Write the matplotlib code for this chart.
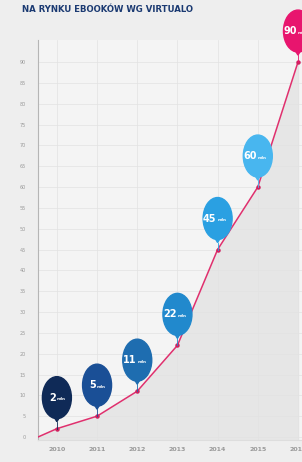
import matplotlib.pyplot as plt
import matplotlib.transforms as transforms
from matplotlib.patches import Ellipse, Polygon
import numpy as np

# ebook market size (mln) by year, read from the infographic
years = [2010, 2011, 2012, 2013, 2014, 2015, 2016]
values = [2, 5, 11, 22, 45, 60, 90]
year_labels = ['2010', '2011', '2012', '2013', '2014', '2015', '2016']
bubble_colors = ['#0f2a57', '#1a4f96', '#1e6db0', '#2189cd', '#2aa0e2', '#48b6ef', '#e8156e']
yticks = list(range(0, 95, 5))
start_year = 2009.53  # line starts at zero on the left edge

fig = plt.figure(figsize=(3.02, 4.62), dpi=100)
fig.patch.set_facecolor('#eeeeee')
ax = fig.add_axes([38 / 302, 22 / 462, 264 / 302, 400 / 462])
ax.set_facecolor('#f4f4f4')
ax.set_xlim(start_year, 2016.1)
ax.set_ylim(-0.72, 95.3)

xs = [start_year] + years
ys = [0] + values
ax.fill_between(xs, ys, -1, color='#e6e6e6', zorder=0)

ax.set_yticks(yticks)
ax.set_yticklabels([str(t) for t in yticks], fontsize=3.5, color='#9a9a9a')
ax.set_xticks(years)
ax.set_xticklabels(year_labels, fontsize=4.5, color='#9a9a9a', fontweight='bold')
ax.tick_params(axis='y', length=0, pad=9)
ax.tick_params(axis='x', length=0, pad=5)
ax.grid(True, color='#e2e2e2', linewidth=0.5)
for s in ['top', 'right']:
    ax.spines[s].set_visible(False)
ax.spines['left'].set_color('#b5b5b5')
ax.spines['left'].set_linewidth(0.8)
ax.spines['bottom'].set_color('#dddddd')

ax.plot(xs, ys, color='#e0306e', linewidth=1.1, zorder=3)
ax.plot(years, values, 'o', color='#d0205e', markersize=2.2, zorder=4)

# balloon labels above each point
for x, v, c in zip(years, values, bubble_colors):
    tr = fig.dpi_scale_trans + transforms.ScaledTranslation(x, v, ax.transData)
    ell = Ellipse((0, 0.31), 0.29, 0.42, color=c, transform=tr, zorder=5, clip_on=False)
    ax.add_patch(ell)
    tip = Polygon([(-0.03, 0.12), (0.03, 0.12), (0, 0.07)], color=c,
                  transform=tr, zorder=5, clip_on=False)
    ax.add_patch(tip)
    ax.plot([0, 0], [0.07, 0.0], color=c, linewidth=0.6, transform=tr, zorder=5, clip_on=False)
    ax.text(-0.01, 0.31, str(v), transform=tr, color='white', fontsize=7,
            fontweight='bold', ha='right', va='center', zorder=6)
    ax.text(0.0, 0.295, 'mln', transform=tr, color='white', fontsize=3,
            fontweight='bold', ha='left', va='center', zorder=6)

fig.text(22 / 302, 1 - 10 / 462, 'NA RYNKU EBOOKÓW WG VIRTUALO', fontsize=6.8,
         fontweight='heavy', color='#1b3a72', ha='left', va='center',
         family=['DejaVu Sans'], fontstretch='condensed')

fig.savefig('out.png', dpi=100, facecolor=fig.get_facecolor())
